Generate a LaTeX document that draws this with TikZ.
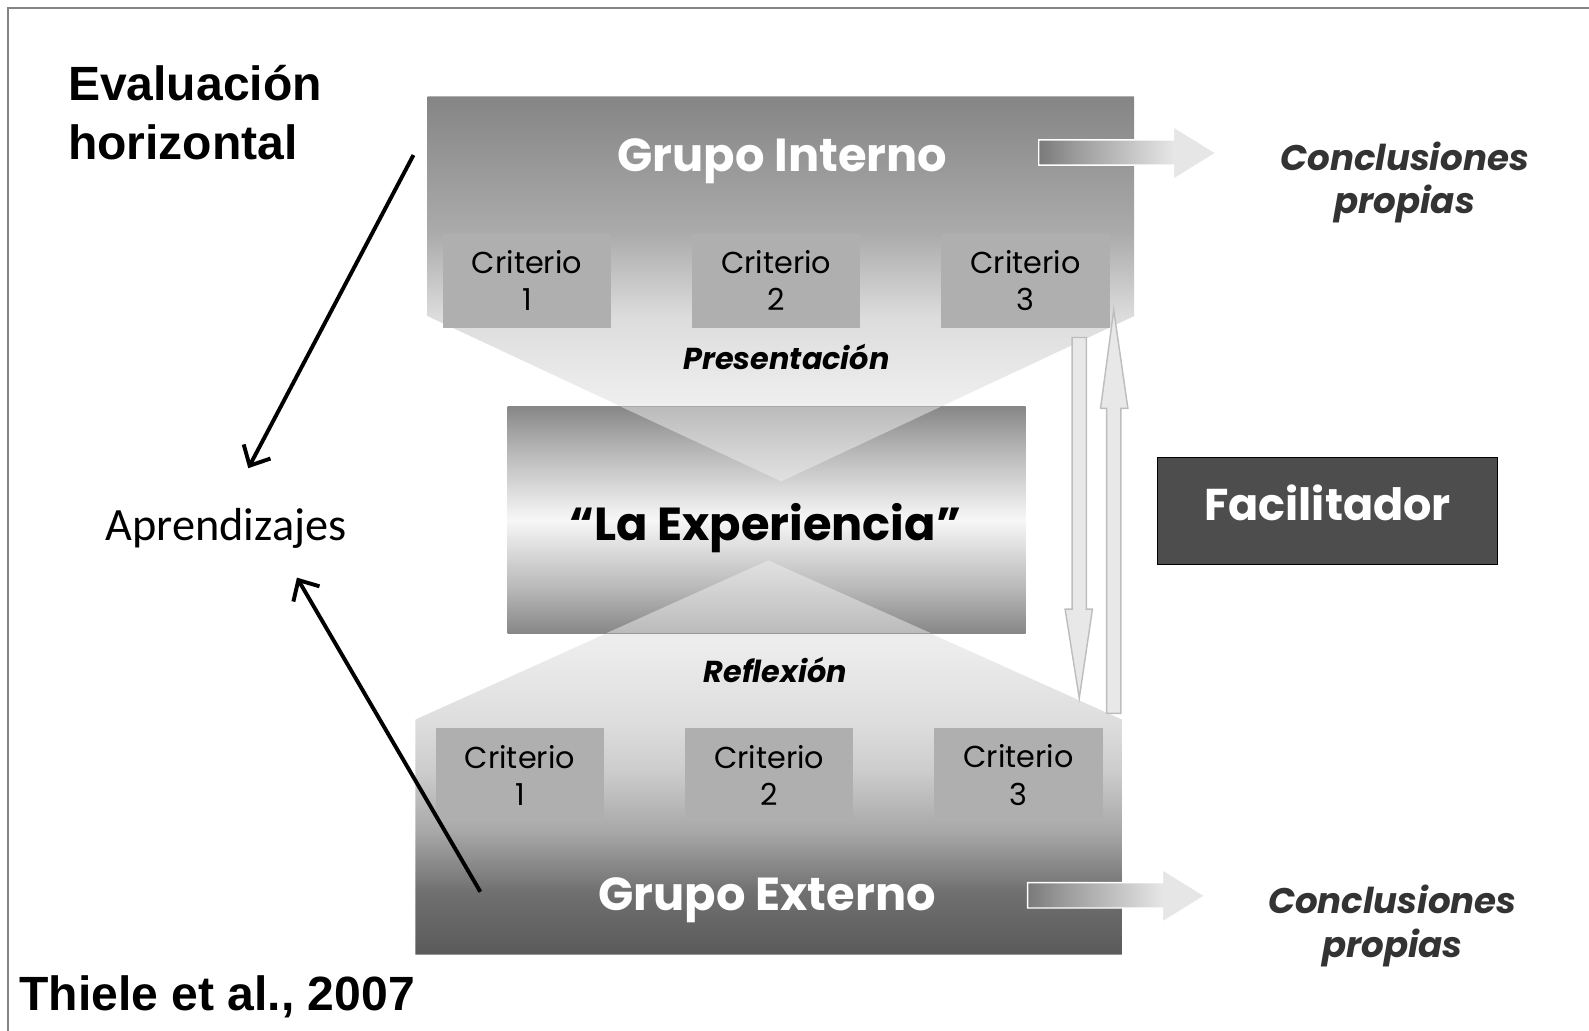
\documentclass[tikz,border=0pt]{standalone}
\usepackage{fontspec}
\setmainfont{Poppins}
\newfontfamily\arialfont{Liberation Sans}
\newfontfamily\calibrifont{Carlito}
\usetikzlibrary{arrows.meta}

\definecolor{critgris}{HTML}{AFAFAF}
\definecolor{facgris}{HTML}{4D4D4D}
\definecolor{concgris}{HTML}{333333}
\definecolor{marcogris}{HTML}{858585}
\definecolor{flechaborde}{HTML}{BDBDBD}
\definecolor{flechafondo}{HTML}{E8E8E8}

\definecolor{intA}{HTML}{F4F4F4}
\definecolor{intB}{HTML}{EFEFEF}
\definecolor{intC}{HTML}{DCDCDC}
\definecolor{intD}{HTML}{ABABAB}
\definecolor{intE}{HTML}{858585}
\definecolor{extA}{HTML}{5A5A5A}
\definecolor{extB}{HTML}{707070}
\definecolor{extC}{HTML}{A8A8A8}
\definecolor{extD}{HTML}{CDCDCD}
\definecolor{extE}{HTML}{DEDEDE}
\definecolor{extF}{HTML}{ECECEC}
\definecolor{extG}{HTML}{F3F3F3}
\definecolor{expA}{HTML}{878787}
\definecolor{expB}{HTML}{B8B8B8}
\definecolor{expC}{HTML}{F7F7F7}
\definecolor{conA}{HTML}{7A7A7A}
\definecolor{conB}{HTML}{9A9A9A}
\definecolor{conC}{HTML}{D0D0D0}
\definecolor{conD}{HTML}{E6E6E6}

\pgfdeclareverticalshading{interno}{100bp}{color(0bp)=(intA); color(25bp)=(intA);
  color(34.9bp)=(intB); color(46.4bp)=(intC); color(57.2bp)=(intD);
  color(75bp)=(intE); color(100bp)=(intE)}
\pgfdeclareverticalshading{externo}{100bp}{color(0bp)=(extA); color(25bp)=(extA);
  color(33bp)=(extB); color(40.7bp)=(extC); color(48.4bp)=(extD); color(54.8bp)=(extE);
  color(63.8bp)=(extF); color(75bp)=(extG); color(100bp)=(extG)}
\pgfdeclareverticalshading{experiencia}{100bp}{color(0bp)=(expA); color(25bp)=(expA);
  color(35bp)=(expB); color(50bp)=(expC); color(65bp)=(expB);
  color(75bp)=(expA); color(100bp)=(expA)}
\pgfdeclarehorizontalshading{conclusion}{100bp}{color(0bp)=(conA); color(25bp)=(conA);
  color(35bp)=(conB); color(55bp)=(conC); color(63bp)=(conD); color(100bp)=(conD)}

\begin{document}
\begin{tikzpicture}[x=0.02cm,y=-0.02cm,
    grupo/.style={text=white,font=\bfseries\fontsize{26}{30}\selectfont},
    criterio/.style={fill=critgris,minimum width=3.32cm,minimum height=1.86cm,
      inner sep=0pt,align=center,font=\fontsize{17}{21}\selectfont},
    etapa/.style={font=\bfseries\itshape\fontsize{17}{20}\selectfont},
    conclusion/.style={text=concgris,align=center,
      font=\bfseries\itshape\fontsize{20}{24.5}\selectfont},
    titulo/.style={font=\arialfont\bfseries\fontsize{27}{33}\selectfont},
    flechagorda/.style={shading=conclusion,draw=white,line width=0.8pt},
    flechavert/.style={fill=flechafondo,draw=flechaborde,line width=0.8pt},
    flechanegra/.style={-{Straight Barb[length=9pt,width=17pt]},line width=2.2pt}]

  \useasboundingbox (0,0) rectangle (1568,1017);
  \draw[marcogris,line width=1.1pt] (8,1017) -- (8,8) -- (1568,8);

  % grupos
  \shade[shading=interno] (422,95) -- (1119,95) -- (1119,312) -- (771,475)
    -- (422,312) -- cycle;
  \shade[shading=externo] (410,942) -- (1107,942) -- (1107,710) -- (758,553)
    -- (410,710) -- cycle;
  \shade[shading=experiencia] (501,401) rectangle (1012,625);
  \fill[intB,opacity=0.5] (612,401) -- (929,401) -- (771,475) -- cycle;
  \fill[intB,opacity=0.5] (598,625) -- (919,625) -- (758,553) -- cycle;

  \node[grupo] (gint) at (772,159) {Grupo Interno};
  \node[grupo] (gext) at (757,888) {Grupo Externo};
  \node[font=\bfseries\fontsize{26}{30}\selectfont] (exp) at (755,521)
    {“La Experiencia”};

  \node[criterio] (ci1) at (520,277) {Criterio\\1};
  \node[criterio] (ci2) at (766,277) {Criterio\\2};
  \node[criterio] (ci3) at (1012,277) {Criterio\\3};
  \node[criterio] (ce1) at (513,765) {Criterio\\1};
  \node[criterio] (ce2) at (759,765) {Criterio\\2};
  \node[criterio] (ce3) at (1005,765) {Criterio\\3};

  \node[etapa] (pres) at (776,352) {Presentación};
  \node[etapa] (refl) at (765,661) {Reflexión};

  % conclusiones
  \shade[flechagorda] (1025,138) -- (1158,138) -- (1158,125) -- (1200,151)
    -- (1158,177) -- (1158,163) -- (1025,163) -- cycle;
  \shade[flechagorda] (1014,871) -- (1147,871) -- (1147,858) -- (1189,884)
    -- (1147,910) -- (1147,896) -- (1014,896) -- cycle;
  \node[conclusion] (conc1) at (1386,180) {Conclusiones\\propias};
  \node[conclusion] (conc2) at (1374,914) {Conclusiones\\propias};

  % facilitador
  \draw[flechavert] (1058,333) -- (1072,333) -- (1072,601) -- (1078,601)
    -- (1065,689) -- (1051,601) -- (1058,601) -- cycle;
  \draw[flechavert] (1092,704) -- (1106,704) -- (1106,403) -- (1113,403)
    -- (1099,306) -- (1086,403) -- (1092,403) -- cycle;
  \node[fill=facgris,draw=black,minimum width=6.72cm,minimum height=2.12cm,
    text depth=9pt,text=white,font=\bfseries\fontsize{25}{30}\selectfont] (fac)
    at (1310,504) {Facilitador};

  % aprendizajes
  \node[titulo,align=left,anchor=west] (eval) at (61,111)
    {Evaluación\\horizontal};
  \node[titulo,anchor=west] (thiele) at (13,984) {Thiele et al., 2007};
  \node[font=\calibrifont\fontsize{26}{30}\selectfont] (aprend) at (223,521)
    {Aprendizajes};
  \coordinate (bajaIni) at (408,153);
  \coordinate (bajaFin) at (245,462);
  \coordinate (subeIni) at (474,880);
  \coordinate (subeFin) at (293,570);
  \draw[flechanegra] (bajaIni) -- (bajaFin);
  \draw[flechanegra] (subeIni) -- (subeFin);
\end{tikzpicture}
\end{document}
